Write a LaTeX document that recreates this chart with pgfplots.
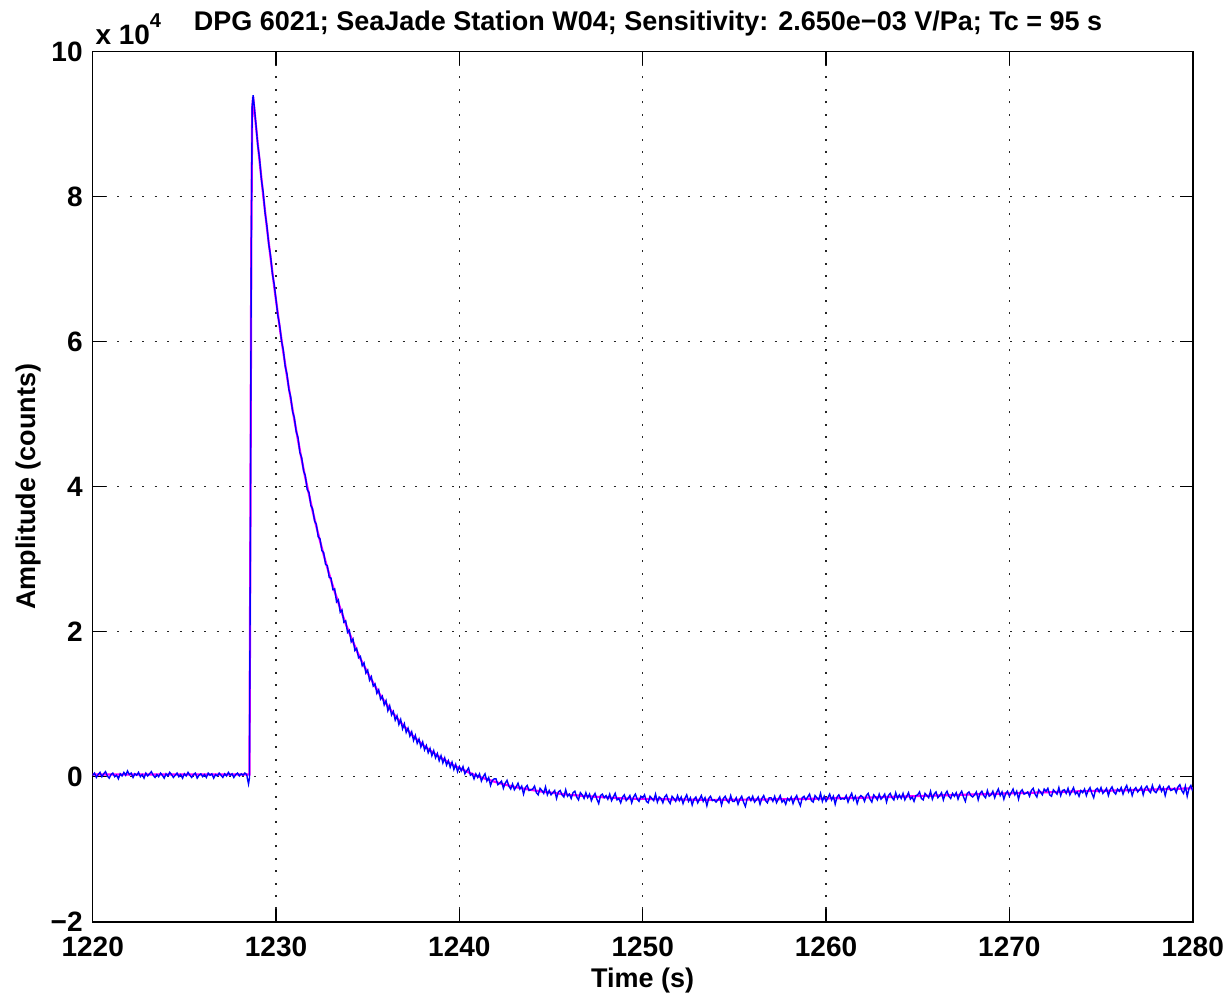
\documentclass[border=0pt]{standalone}
\usepackage{fontspec}
\setmainfont{Liberation Sans}
\usepackage{pgfplots}
\pgfplotsset{compat=1.18}
\definecolor{mblue}{RGB}{0,0,255}
\definecolor{mmag}{RGB}{255,0,255}

\begin{document}
\begin{tikzpicture}
\useasboundingbox (-46.35pt,-35.65pt) rectangle (568.65pt,460.85pt);
\begin{axis}[
  name=ax,
  scale only axis, width=550pt, height=435pt,
  at={(0,0)}, anchor=south west,
  xmin=1220, xmax=1280, ymin=-2, ymax=10,
  xtick={1220,1230,1240,1250,1260,1270,1280},
  ytick={-2,0,2,4,6,8,10},
  yticklabels={−2,0,2,4,6,8,10},
  /pgf/number format/1000 sep={},
  /pgf/number format/assume math mode=true,
  tick label style={font=\fontsize{14}{14}\selectfont\bfseries},
  xticklabel style={yshift=-4pt},
  yticklabel style={xshift=-1.5pt},
  tick align=inside, major tick length=6.5pt,
  tick style={black, line width=0.6pt},
  xtick pos=both, ytick pos=both,
  grid=major,
  grid style={black!85, line width=0.75pt, dash pattern=on 1pt off 5.2pt},
  axis line style={line width=0.8pt},
  title={DPG 6021; SeaJade Station W04; Sensitivity: 2.650e−03 V/Pa; Tc = 95 s},
  title style={at={(rel axis cs:0.5048,1.02494)}, anchor=base, yshift=-6pt,
    font=\fontsize{13.5}{13.5}\selectfont\bfseries},
  xlabel={Time (s)},
  xlabel style={at={(rel axis cs:0.5,-0.0760)}, anchor=base,
    font=\fontsize{13.5}{13.5}\selectfont\bfseries},
  ylabel={Amplitude (counts)},
  ylabel style={at={(rel axis cs:-0.0520,0.5)}, anchor=base,
    font=\fontsize{13.5}{13.5}\selectfont\bfseries},
]
% fitted curve (magenta)
\addplot[mmag, line width=1.1pt] table[row sep=\\] {
t y\\
1220 0.03\\ 1228.5 0.03\\ 1228.55 0.03\\ 1228.6 3.3\\ 1228.65 7.3\\ 1228.7 9.2\\
1228.75 9.38\\ 1228.8 9.25\\ 1228.9 8.99\\ 1229.0 8.74\\ 1229.1 8.50\\ 1229.2 8.26\\
1229.3 8.02\\ 1229.4 7.80\\ 1229.5 7.58\\ 1229.6 7.37\\ 1229.7 7.16\\ 1229.8 6.96\\
1229.9 6.76\\ 1230.0 6.57\\ 1230.2 6.20\\ 1230.4 5.85\\ 1230.6 5.52\\ 1230.8 5.21\\
1231.0 4.92\\ 1231.2 4.64\\ 1231.4 4.37\\ 1231.6 4.12\\ 1231.8 3.89\\ 1232.0 3.66\\
1232.2 3.45\\ 1232.4 3.25\\ 1232.6 3.06\\ 1232.8 2.88\\ 1233.0 2.71\\ 1233.2 2.55\\
1233.4 2.40\\ 1233.6 2.25\\ 1233.8 2.11\\ 1234.0 1.98\\ 1234.2 1.86\\ 1234.4 1.74\\
1234.6 1.63\\ 1234.8 1.53\\ 1235.0 1.43\\ 1235.2 1.34\\ 1235.4 1.25\\ 1235.6 1.16\\
1235.8 1.08\\ 1236.0 1.01\\ 1236.2 0.94\\ 1236.4 0.87\\ 1236.6 0.81\\ 1236.8 0.75\\
1237.0 0.69\\ 1237.2 0.64\\ 1237.4 0.58\\ 1237.6 0.53\\ 1237.8 0.49\\ 1238.0 0.44\\
1238.2 0.40\\ 1238.4 0.36\\ 1238.6 0.33\\ 1238.8 0.29\\ 1239.0 0.26\\ 1239.2 0.23\\
1239.4 0.20\\ 1239.6 0.17\\ 1239.8 0.14\\ 1240.0 0.12\\ 1240.5 0.06\\ 1241.0 0.005\\
1241.5 -0.035\\ 1242.0 -0.075\\ 1242.5 -0.11\\ 1243.0 -0.14\\ 1243.5 -0.165\\ 1244.0 -0.185\\
1244.5 -0.205\\ 1245.0 -0.22\\ 1246 -0.25\\ 1247 -0.27\\ 1248 -0.285\\ 1249 -0.30\\
1250 -0.305\\ 1252 -0.315\\ 1254 -0.32\\ 1256 -0.315\\ 1258 -0.31\\ 1260 -0.30\\
1262 -0.29\\ 1264 -0.275\\ 1266 -0.26\\ 1268 -0.245\\ 1270 -0.23\\ 1272 -0.215\\
1274 -0.20\\ 1276 -0.19\\ 1278 -0.175\\ 1280 -0.16\\
};
% recorded signal (blue)
\addplot[mblue, line width=0.7pt] table[row sep=\\] {
t y\\
1220.0 0.02\\ 1220.1 0.05\\ 1220.2 -0.01\\ 1220.3 0.03\\ 1220.4 0.06\\ 1220.5 0.00\\ 1220.6 0.04\\ 1220.7 0.07\\ 1220.8 0.01\\ 1220.9 -0.02\\
1221.0 0.03\\ 1221.1 0.05\\ 1221.2 0.00\\ 1221.3 0.02\\ 1221.4 -0.03\\ 1221.5 0.04\\ 1221.6 0.01\\ 1221.7 0.06\\ 1221.8 0.02\\ 1221.9 0.08\\
1222.0 0.03\\ 1222.1 0.05\\ 1222.2 -0.01\\ 1222.3 0.04\\ 1222.4 0.02\\ 1222.5 0.06\\ 1222.6 0.00\\ 1222.7 0.03\\ 1222.8 -0.02\\ 1222.9 0.05\\
1223.0 0.01\\ 1223.1 0.04\\ 1223.2 0.07\\ 1223.3 0.02\\ 1223.4 -0.01\\ 1223.5 0.03\\ 1223.6 0.00\\ 1223.7 0.05\\ 1223.8 0.02\\ 1223.9 -0.02\\
1224.0 0.04\\ 1224.1 0.01\\ 1224.2 0.06\\ 1224.3 0.03\\ 1224.4 -0.01\\ 1224.5 0.02\\ 1224.6 0.05\\ 1224.7 0.00\\ 1224.8 0.03\\ 1224.9 -0.02\\
1225.0 0.04\\ 1225.1 0.01\\ 1225.2 0.06\\ 1225.3 0.02\\ 1225.4 -0.01\\ 1225.5 0.03\\ 1225.6 0.05\\ 1225.7 -0.02\\ 1225.8 0.02\\ 1225.9 0.04\\
1226.0 0.00\\ 1226.1 0.03\\ 1226.2 -0.01\\ 1226.3 0.05\\ 1226.4 0.02\\ 1226.5 0.04\\ 1226.6 -0.02\\ 1226.7 0.03\\ 1226.8 0.01\\ 1226.9 0.05\\
1227.0 0.02\\ 1227.1 -0.01\\ 1227.2 0.04\\ 1227.3 0.01\\ 1227.4 0.06\\ 1227.5 0.02\\ 1227.6 0.04\\ 1227.7 -0.01\\ 1227.8 0.03\\ 1227.9 0.05\\
1228.0 0.01\\ 1228.1 0.04\\ 1228.2 0.02\\ 1228.3 0.05\\ 1228.4 0.03\\ 1228.45 -0.04\\ 1228.5 -0.10\\ 1228.55 -0.02\\ 1228.6 3.2\\ 1228.65 7.4\\
1228.7 9.25\\ 1228.75 9.40\\ 1228.8 9.28\\ 1228.9 9.01\\
1229.0 8.72\\ 1229.1 8.53\\ 1229.2 8.24\\ 1229.3 8.06\\ 1229.4 7.78\\ 1229.5 7.60\\ 1229.6 7.35\\ 1229.7 7.19\\ 1229.8 6.94\\ 1229.9 6.79\\
1230.0 6.58\\ 1230.1 6.36\\ 1230.2 6.22\\ 1230.3 6.01\\ 1230.4 5.88\\ 1230.5 5.66\\ 1230.6 5.55\\ 1230.7 5.34\\ 1230.8 5.24\\ 1230.9 5.04\\
1231.0 4.95\\ 1231.1 4.76\\ 1231.2 4.68\\ 1231.3 4.47\\ 1231.4 4.40\\ 1231.5 4.22\\ 1231.6 4.15\\ 1231.7 3.96\\ 1231.8 3.92\\ 1231.9 3.74\\
1232.0 3.69\\ 1232.1 3.53\\ 1232.2 3.48\\ 1232.3 3.31\\ 1232.4 3.28\\ 1232.5 3.12\\ 1232.6 3.09\\ 1232.7 2.93\\ 1232.8 2.91\\ 1232.9 2.75\\
1233.0 2.74\\ 1233.1 2.58\\ 1233.2 2.59\\ 1233.3 2.41\\ 1233.4 2.44\\ 1233.5 2.27\\ 1233.6 2.30\\ 1233.7 2.13\\ 1233.8 2.15\\ 1233.9 1.99\\
1234.0 2.02\\ 1234.1 1.86\\ 1234.2 1.90\\ 1234.3 1.74\\ 1234.4 1.77\\ 1234.5 1.64\\ 1234.6 1.66\\ 1234.7 1.53\\ 1234.8 1.57\\ 1234.9 1.43\\
1235.0 1.47\\ 1235.1 1.33\\ 1235.2 1.38\\ 1235.3 1.25\\ 1235.4 1.28\\ 1235.5 1.15\\ 1235.6 1.20\\ 1235.7 1.07\\ 1235.8 1.11\\ 1235.9 0.99\\
1236.0 1.05\\ 1236.1 0.91\\ 1236.2 0.98\\ 1236.3 0.85\\ 1236.4 0.90\\ 1236.5 0.78\\ 1236.6 0.84\\ 1236.7 0.72\\ 1236.8 0.79\\ 1236.9 0.66\\
1237.0 0.73\\ 1237.1 0.61\\ 1237.2 0.67\\ 1237.3 0.56\\ 1237.4 0.62\\ 1237.5 0.50\\ 1237.6 0.57\\ 1237.7 0.46\\ 1237.8 0.52\\ 1237.9 0.41\\
1238.0 0.48\\ 1238.1 0.37\\ 1238.2 0.43\\ 1238.3 0.33\\ 1238.4 0.39\\ 1238.5 0.29\\ 1238.6 0.36\\ 1238.7 0.26\\ 1238.8 0.32\\ 1238.9 0.22\\
1239.0 0.29\\ 1239.1 0.19\\ 1239.2 0.26\\ 1239.3 0.16\\ 1239.4 0.22\\ 1239.5 0.13\\ 1239.6 0.20\\ 1239.7 0.10\\ 1239.8 0.17\\ 1239.9 0.07\\
1240.0 0.14\\ 1240.1 0.08\\ 1240.2 0.14\\ 1240.3 0.04\\ 1240.4 0.08\\ 1240.5 0.12\\ 1240.6 0.02\\ 1240.7 0.04\\ 1240.8 -0.03\\ 1240.9 0.04\\
1241.0 -0.01\\ 1241.1 0.04\\ 1241.2 -0.06\\ 1241.3 0.00\\ 1241.4 0.04\\ 1241.5 -0.06\\ 1241.6 -0.01\\ 1241.7 -0.12\\ 1241.8 -0.05\\ 1241.9 -0.03\\
1242.0 -0.03\\ 1242.1 -0.11\\ 1242.2 -0.09\\ 1242.3 -0.06\\ 1242.4 -0.16\\ 1242.5 -0.09\\ 1242.6 -0.05\\ 1242.7 -0.13\\ 1242.8 -0.17\\ 1242.9 -0.10\\
1243.0 -0.18\\ 1243.1 -0.14\\ 1243.2 -0.09\\ 1243.3 -0.17\\ 1243.4 -0.13\\ 1243.5 -0.24\\ 1243.6 -0.15\\ 1243.7 -0.12\\ 1243.8 -0.19\\ 1243.9 -0.18\\
1244.0 -0.17\\ 1244.1 -0.13\\ 1244.2 -0.22\\ 1244.3 -0.25\\ 1244.4 -0.16\\ 1244.5 -0.19\\ 1244.6 -0.23\\ 1244.7 -0.14\\ 1244.8 -0.25\\ 1244.9 -0.19\\
1245.0 -0.25\\ 1245.1 -0.22\\ 1245.2 -0.19\\ 1245.3 -0.30\\ 1245.4 -0.21\\ 1245.5 -0.19\\ 1245.6 -0.25\\ 1245.7 -0.28\\ 1245.8 -0.18\\ 1245.9 -0.27\\
1246.0 -0.24\\ 1246.1 -0.30\\ 1246.2 -0.22\\ 1246.3 -0.20\\ 1246.4 -0.28\\ 1246.5 -0.32\\ 1246.6 -0.22\\ 1246.7 -0.25\\ 1246.8 -0.30\\ 1246.9 -0.22\\
1247.0 -0.29\\ 1247.1 -0.24\\ 1247.2 -0.33\\ 1247.3 -0.27\\ 1247.4 -0.23\\ 1247.5 -0.31\\ 1247.6 -0.37\\ 1247.7 -0.26\\ 1247.8 -0.24\\ 1247.9 -0.29\\
1248.0 -0.26\\ 1248.1 -0.31\\ 1248.2 -0.24\\ 1248.3 -0.33\\ 1248.4 -0.28\\ 1248.5 -0.23\\ 1248.6 -0.32\\ 1248.7 -0.30\\ 1248.8 -0.36\\ 1248.9 -0.28\\
1249.0 -0.25\\ 1249.1 -0.33\\ 1249.2 -0.30\\ 1249.3 -0.26\\ 1249.4 -0.36\\ 1249.5 -0.28\\ 1249.6 -0.24\\ 1249.7 -0.31\\ 1249.8 -0.34\\ 1249.9 -0.27\\
1250.0 -0.29\\ 1250.1 -0.25\\ 1250.2 -0.34\\ 1250.3 -0.36\\ 1250.4 -0.27\\ 1250.5 -0.30\\ 1250.6 -0.33\\ 1250.7 -0.24\\ 1250.8 -0.35\\ 1250.9 -0.28\\
1251.0 -0.30\\ 1251.1 -0.36\\ 1251.2 -0.28\\ 1251.3 -0.25\\ 1251.4 -0.33\\ 1251.5 -0.37\\ 1251.6 -0.27\\ 1251.7 -0.30\\ 1251.8 -0.34\\ 1251.9 -0.26\\
1252.0 -0.33\\ 1252.1 -0.28\\ 1252.2 -0.37\\ 1252.3 -0.30\\ 1252.4 -0.25\\ 1252.5 -0.34\\ 1252.6 -0.29\\ 1252.7 -0.39\\ 1252.8 -0.31\\ 1252.9 -0.28\\
1253.0 -0.36\\ 1253.1 -0.31\\ 1253.2 -0.26\\ 1253.3 -0.34\\ 1253.4 -0.29\\ 1253.5 -0.40\\ 1253.6 -0.30\\ 1253.7 -0.27\\ 1253.8 -0.33\\ 1253.9 -0.32\\
1254.0 -0.35\\ 1254.1 -0.32\\ 1254.2 -0.28\\ 1254.3 -0.39\\ 1254.4 -0.30\\ 1254.5 -0.27\\ 1254.6 -0.33\\ 1254.7 -0.36\\ 1254.8 -0.26\\ 1254.9 -0.34\\
1255.0 -0.34\\ 1255.1 -0.29\\ 1255.2 -0.38\\ 1255.3 -0.31\\ 1255.4 -0.27\\ 1255.5 -0.35\\ 1255.6 -0.41\\ 1255.7 -0.30\\ 1255.8 -0.28\\ 1255.9 -0.33\\
1256.0 -0.27\\ 1256.1 -0.35\\ 1256.2 -0.32\\ 1256.3 -0.28\\ 1256.4 -0.38\\ 1256.5 -0.30\\ 1256.6 -0.26\\ 1256.7 -0.33\\ 1256.8 -0.36\\ 1256.9 -0.29\\
1257.0 -0.29\\ 1257.1 -0.34\\ 1257.2 -0.27\\ 1257.3 -0.36\\ 1257.4 -0.31\\ 1257.5 -0.26\\ 1257.6 -0.35\\ 1257.7 -0.32\\ 1257.8 -0.38\\ 1257.9 -0.30\\
1258.0 -0.33\\ 1258.1 -0.28\\ 1258.2 -0.37\\ 1258.3 -0.30\\ 1258.4 -0.26\\ 1258.5 -0.34\\ 1258.6 -0.40\\ 1258.7 -0.29\\ 1258.8 -0.27\\ 1258.9 -0.32\\
1259.0 -0.28\\ 1259.1 -0.24\\ 1259.2 -0.33\\ 1259.3 -0.35\\ 1259.4 -0.26\\ 1259.5 -0.29\\ 1259.6 -0.32\\ 1259.7 -0.23\\ 1259.8 -0.34\\ 1259.9 -0.27\\
1260.0 -0.34\\ 1260.1 -0.29\\ 1260.2 -0.24\\ 1260.3 -0.32\\ 1260.4 -0.27\\ 1260.5 -0.38\\ 1260.6 -0.28\\ 1260.7 -0.25\\ 1260.8 -0.31\\ 1260.9 -0.30\\
1261.0 -0.31\\ 1261.1 -0.26\\ 1261.2 -0.35\\ 1261.3 -0.28\\ 1261.4 -0.23\\ 1261.5 -0.32\\ 1261.6 -0.27\\ 1261.7 -0.37\\ 1261.8 -0.29\\ 1261.9 -0.26\\
1262.0 -0.28\\ 1262.1 -0.34\\ 1262.2 -0.26\\ 1262.3 -0.23\\ 1262.4 -0.31\\ 1262.5 -0.35\\ 1262.6 -0.25\\ 1262.7 -0.28\\ 1262.8 -0.32\\ 1262.9 -0.24\\
1263.0 -0.31\\ 1263.1 -0.28\\ 1263.2 -0.24\\ 1263.3 -0.35\\ 1263.4 -0.26\\ 1263.5 -0.23\\ 1263.6 -0.29\\ 1263.7 -0.32\\ 1263.8 -0.22\\ 1263.9 -0.30\\
1264.0 -0.25\\ 1264.1 -0.30\\ 1264.2 -0.23\\ 1264.3 -0.32\\ 1264.4 -0.27\\ 1264.5 -0.22\\ 1264.6 -0.31\\ 1264.7 -0.28\\ 1264.8 -0.34\\ 1264.9 -0.26\\
1265.0 -0.25\\ 1265.1 -0.21\\ 1265.2 -0.30\\ 1265.3 -0.32\\ 1265.4 -0.23\\ 1265.5 -0.26\\ 1265.6 -0.29\\ 1265.7 -0.20\\ 1265.8 -0.31\\ 1265.9 -0.24\\
1266.0 -0.21\\ 1266.1 -0.29\\ 1266.2 -0.26\\ 1266.3 -0.22\\ 1266.4 -0.32\\ 1266.5 -0.24\\ 1266.6 -0.20\\ 1266.7 -0.27\\ 1266.8 -0.30\\ 1266.9 -0.23\\
1267.0 -0.27\\ 1267.1 -0.22\\ 1267.2 -0.31\\ 1267.3 -0.24\\ 1267.4 -0.20\\ 1267.5 -0.28\\ 1267.6 -0.34\\ 1267.7 -0.23\\ 1267.8 -0.21\\ 1267.9 -0.26\\
1268.0 -0.28\\ 1268.1 -0.25\\ 1268.2 -0.21\\ 1268.3 -0.32\\ 1268.4 -0.23\\ 1268.5 -0.20\\ 1268.6 -0.26\\ 1268.7 -0.29\\ 1268.8 -0.19\\ 1268.9 -0.27\\
1269.0 -0.25\\ 1269.1 -0.20\\ 1269.2 -0.29\\ 1269.3 -0.22\\ 1269.4 -0.17\\ 1269.5 -0.26\\ 1269.6 -0.21\\ 1269.7 -0.31\\ 1269.8 -0.23\\ 1269.9 -0.20\\
1270.0 -0.27\\ 1270.1 -0.22\\ 1270.2 -0.17\\ 1270.3 -0.25\\ 1270.4 -0.20\\ 1270.5 -0.31\\ 1270.6 -0.21\\ 1270.7 -0.18\\ 1270.8 -0.24\\ 1270.9 -0.23\\
1271.0 -0.21\\ 1271.1 -0.27\\ 1271.2 -0.19\\ 1271.3 -0.16\\ 1271.4 -0.24\\ 1271.5 -0.28\\ 1271.6 -0.18\\ 1271.7 -0.21\\ 1271.8 -0.25\\ 1271.9 -0.17\\
1272.0 -0.20\\ 1272.1 -0.16\\ 1272.2 -0.25\\ 1272.3 -0.27\\ 1272.4 -0.18\\ 1272.5 -0.21\\ 1272.6 -0.24\\ 1272.7 -0.15\\ 1272.8 -0.26\\ 1272.9 -0.19\\
1273.0 -0.18\\ 1273.1 -0.23\\ 1273.2 -0.16\\ 1273.3 -0.25\\ 1273.4 -0.20\\ 1273.5 -0.15\\ 1273.6 -0.24\\ 1273.7 -0.21\\ 1273.8 -0.27\\ 1273.9 -0.19\\
1274.0 -0.22\\ 1274.1 -0.17\\ 1274.2 -0.26\\ 1274.3 -0.19\\ 1274.4 -0.15\\ 1274.5 -0.23\\ 1274.6 -0.29\\ 1274.7 -0.18\\ 1274.8 -0.16\\ 1274.9 -0.21\\
1275.0 -0.15\\ 1275.1 -0.23\\ 1275.2 -0.20\\ 1275.3 -0.16\\ 1275.4 -0.26\\ 1275.5 -0.18\\ 1275.6 -0.14\\ 1275.7 -0.21\\ 1275.8 -0.24\\ 1275.9 -0.17\\
1276.0 -0.20\\ 1276.1 -0.15\\ 1276.2 -0.24\\ 1276.3 -0.17\\ 1276.4 -0.12\\ 1276.5 -0.21\\ 1276.6 -0.16\\ 1276.7 -0.26\\ 1276.8 -0.18\\ 1276.9 -0.15\\
1277.0 -0.21\\ 1277.1 -0.18\\ 1277.2 -0.14\\ 1277.3 -0.25\\ 1277.4 -0.16\\ 1277.5 -0.13\\ 1277.6 -0.19\\ 1277.7 -0.22\\ 1277.8 -0.12\\ 1277.9 -0.20\\
1278.0 -0.22\\ 1278.1 -0.17\\ 1278.2 -0.12\\ 1278.3 -0.20\\ 1278.4 -0.15\\ 1278.5 -0.26\\ 1278.6 -0.16\\ 1278.7 -0.13\\ 1278.8 -0.19\\ 1278.9 -0.18\\
1279.0 -0.16\\ 1279.1 -0.22\\ 1279.2 -0.14\\ 1279.3 -0.11\\ 1279.4 -0.19\\ 1279.5 -0.23\\ 1279.6 -0.13\\ 1279.7 -0.27\\ 1279.8 -0.16\\ 1279.9 -0.12\\
1280.0 -0.20\\
};
\end{axis}
\node[anchor=base west, inner sep=0pt, font=\fontsize{14}{14}\selectfont\bfseries]
  at ([xshift=1.2pt, yshift=3.6pt]ax.north west) {x 10\raisebox{0.6em}{\fontsize{10}{10}\selectfont 4}};
\end{tikzpicture}
\end{document}
